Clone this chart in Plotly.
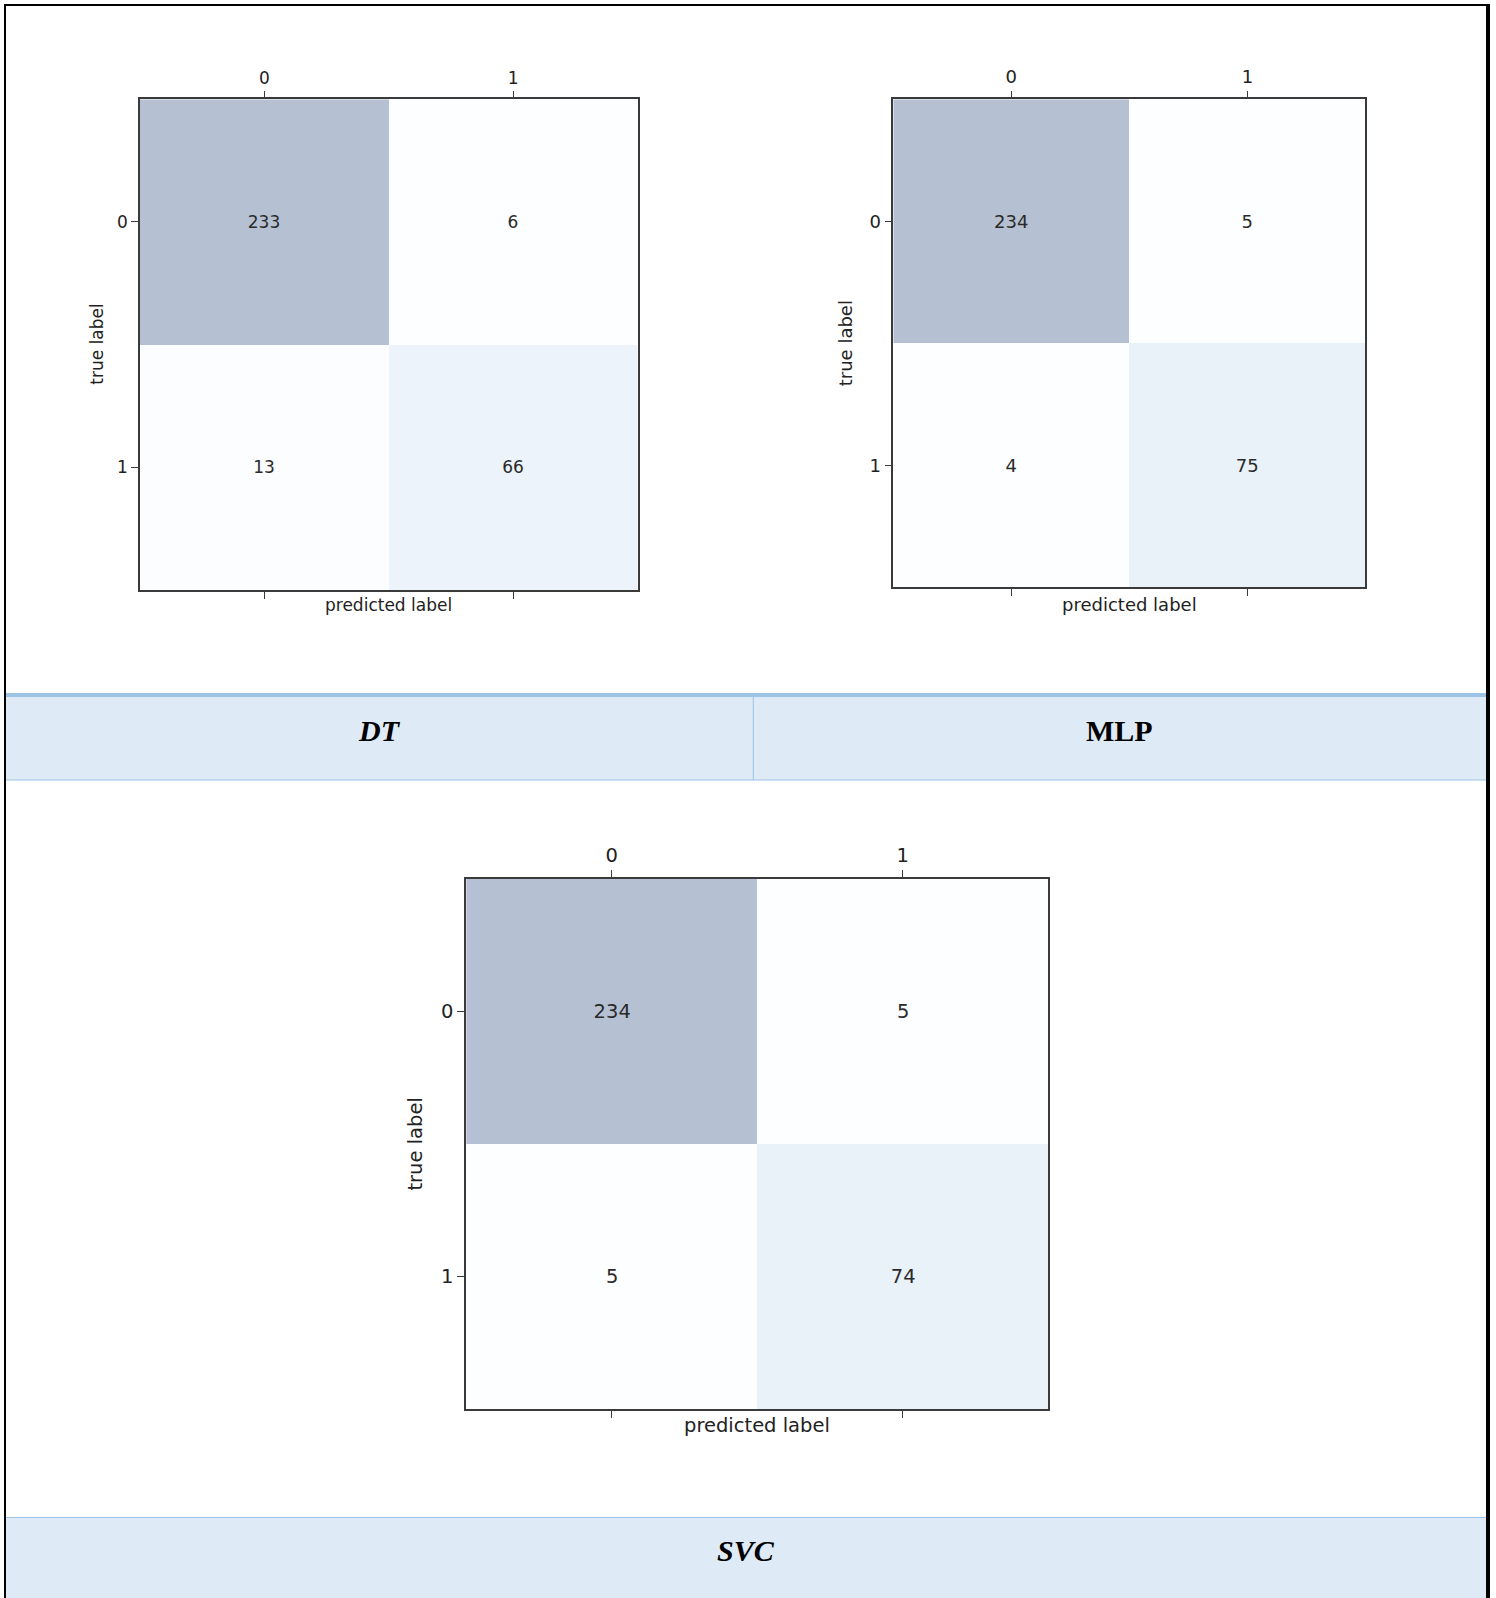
import plotly.graph_objects as go

W, H = 1496, 1598

# ---- data -------------------------------------------------------------
class_labels = ["0", "1"]
model_names = ["DT", "MLP", "SVC"]
dt_matrix = [[233, 6], [13, 66]]
mlp_matrix = [[234, 5], [4, 75]]
svc_matrix = [[234, 5], [5, 74]]

# colorbrewer Blues, shown at 30% opacity over white
blues = ["#f7fbff", "#deebf7", "#c6dbef", "#9ecae1", "#6baed6",
         "#4292c6", "#2171b5", "#08519c", "#08306b"]


def faded(hexc, alpha=0.3):
    r, g, b = (int(hexc[i:i + 2], 16) for i in (1, 3, 5))
    mix = lambda c: round(alpha * c + (1 - alpha) * 255)
    return f"rgb({mix(r)},{mix(g)},{mix(b)})"


colorscale = [[i / (len(blues) - 1), faded(c)] for i, c in enumerate(blues)]


def fx(p):
    return p / W


def fy(p):
    return 1 - p / H


# panel boxes in page pixels: (left, right, top, bottom)
panels = [
    dict(z=dt_matrix, box=(140, 637.5, 99.3, 590), fs=17, xl=605, yl=97),
    dict(z=mlp_matrix, box=(893.3, 1365.4, 99.3, 587.2), fs=18, xl=604.6, yl=845),
    dict(z=svc_matrix, box=(466.2, 1048.3, 878.5, 1409.2), fs=19.5, xl=1425, yl=415.7),
]

frame = "#3a3a3a"
fig = go.Figure()
annotations = []
layout_axes = {}

for i, p in enumerate(panels, start=1):
    x0, x1, y0, y1 = p["box"]
    z = p["z"]
    flat = [v for row in z for v in row]
    fig.add_trace(go.Heatmap(
        x=[0, 1], y=[0, 1], z=z,
        colorscale=colorscale, zmin=min(flat), zmax=max(flat),
        showscale=False, texttemplate="%{z}",
        textfont=dict(family="DejaVu Sans", size=p["fs"], color="#2a2a2a"),
        hoverinfo="skip",
        xaxis=f"x{i}", yaxis=f"y{i}",
    ))
    sfx = "" if i == 1 else str(i)
    layout_axes[f"xaxis{sfx}"] = dict(
        domain=[fx(x0), fx(x1)], anchor=f"y{i}", side="top",
        range=[-0.5, 1.5], tickvals=[0, 1], ticktext=class_labels,
        ticks="outside", ticklen=7, tickwidth=1.3, tickcolor=frame,
        showline=True, linecolor=frame, linewidth=1.6, mirror="ticks",
        showgrid=False, zeroline=False, fixedrange=True,
        tickfont=dict(family="DejaVu Sans", size=p["fs"], color="#222"),
    )
    layout_axes[f"yaxis{sfx}"] = dict(
        domain=[fy(y1), fy(y0)], anchor=f"x{i}",
        range=[1.5, -0.5], tickvals=[0, 1], ticktext=class_labels,
        ticks="outside", ticklen=7, tickwidth=1.3, tickcolor=frame,
        showline=True, linecolor=frame, linewidth=1.6, mirror=True,
        showgrid=False, zeroline=False, fixedrange=True,
        tickfont=dict(family="DejaVu Sans", size=p["fs"], color="#222"),
    )
    annotations.append(dict(
        text="predicted label", xref="paper", yref="paper",
        x=fx((x0 + x1) / 2), y=fy(p["xl"]), showarrow=False,
        xanchor="center", yanchor="middle",
        font=dict(family="DejaVu Sans", size=p["fs"], color="#222"),
    ))
    annotations.append(dict(
        text="true label", xref="paper", yref="paper",
        x=fx(p["yl"]), y=fy((y0 + y1) / 2), showarrow=False, textangle=-90,
        xanchor="center", yanchor="middle",
        font=dict(family="DejaVu Sans", size=p["fs"], color="#222"),
    ))

# ---- caption table rows -------------------------------------------------
cell_fill = "#deeaf6"
rule = "#9dc3e6"
P = dict(xref="paper", yref="paper")
shapes = [
    # first caption row
    dict(type="rect", x0=fx(6), x1=fx(1486), y0=fy(697), y1=fy(780),
         fillcolor=cell_fill, line=dict(width=0), layer="below", **P),
    dict(type="rect", x0=fx(6), x1=fx(1486), y0=fy(693), y1=fy(697),
         fillcolor=rule, line=dict(width=0), **P),
    dict(type="line", x0=fx(6), x1=fx(1486), y0=fy(780), y1=fy(780),
         line=dict(color=rule, width=1.2), **P),
    dict(type="line", x0=fx(753.3), x1=fx(753.3), y0=fy(697), y1=fy(780),
         line=dict(color=rule, width=1), **P),
    # second caption row
    dict(type="rect", x0=fx(6), x1=fx(1486), y0=fy(1518), y1=fy(1598),
         fillcolor=cell_fill, line=dict(width=0), layer="below", **P),
    dict(type="line", x0=fx(6), x1=fx(1486), y0=fy(1517.5), y1=fy(1517.5),
         line=dict(color=rule, width=1.2), **P),
    # page border
    dict(type="line", x0=fx(5), x1=fx(5), y0=fy(4), y1=fy(1598),
         line=dict(color="black", width=2), **P),
    dict(type="line", x0=fx(1488), x1=fx(1488), y0=fy(4), y1=fy(1598),
         line=dict(color="black", width=4), **P),
    dict(type="line", x0=fx(4), x1=fx(1490), y0=fy(5), y1=fy(5),
         line=dict(color="black", width=2), **P),
]

caption_font = dict(family="Liberation Serif, Times New Roman, serif", size=30, color="black")
annotations += [
    dict(text="<b><i>DT</i></b>", xref="paper", yref="paper", x=fx(379.5), y=fy(731),
         showarrow=False, xanchor="center", yanchor="middle", font=caption_font),
    dict(text="<b>MLP</b>", xref="paper", yref="paper", x=fx(1119.5), y=fy(731),
         showarrow=False, xanchor="center", yanchor="middle", font=caption_font),
    dict(text="<b><i>SVC</i></b>", xref="paper", yref="paper", x=fx(746), y=fy(1550),
         showarrow=False, xanchor="center", yanchor="middle", font=caption_font),
]

fig.update_layout(
    width=W, height=H, margin=dict(l=0, r=0, t=0, b=0),
    paper_bgcolor="white", plot_bgcolor="white",
    showlegend=False, shapes=shapes, annotations=annotations,
    **layout_axes,
)

fig.write_html("out.html")
